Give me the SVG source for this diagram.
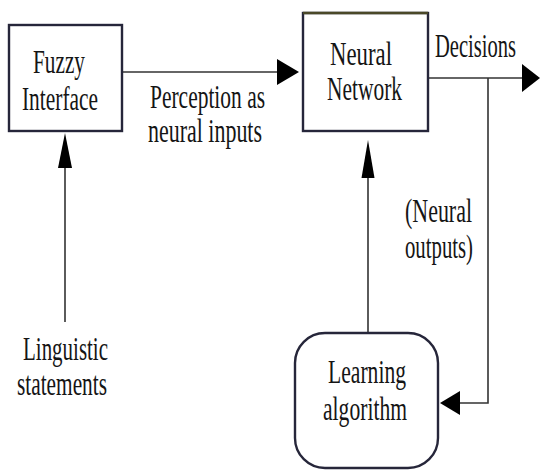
<svg xmlns="http://www.w3.org/2000/svg" width="540" height="470" viewBox="0 0 540 470">
  <style>
    .box { fill: #ffffff; stroke: #26263a; stroke-width: 2.4; }
    .wire { fill: none; stroke: #333333; stroke-width: 1.6; }
    .head { fill: #000000; stroke: none; }
    .lbl { font-family: "Liberation Serif", "Times New Roman", "DejaVu Serif", serif; font-size: 33px; fill: #151515; }
  </style>
  <rect width="540" height="470" fill="#ffffff"/>

  <!-- connectors -->
  <g id="connectors">
    <!-- fuzzy interface to neural network -->
    <line class="wire" x1="122" y1="72" x2="279" y2="72"/>
    <polygon class="head" points="299,72 277,59 277,85"/>
    <!-- decisions out -->
    <line class="wire" x1="428" y1="78" x2="524" y2="78"/>
    <polygon class="head" points="540,78 522,64 522,92"/>
    <!-- feedback of neural outputs to the learning algorithm -->
    <polyline class="wire" points="488,78 488,403 459,403"/>
    <polygon class="head" points="440,403 460,391 460,415"/>
    <!-- learning algorithm to neural network -->
    <line class="wire" x1="368" y1="333" x2="368" y2="176"/>
    <polygon class="head" points="368,140 361.5,178 374.5,178"/>
    <!-- linguistic statements to fuzzy interface -->
    <line class="wire" x1="65" y1="322" x2="65" y2="166"/>
    <polygon class="head" points="65,133 58,168 72,168"/>
  </g>

  <g id="fuzzy-interface">
    <rect class="box" x="9" y="25" width="113" height="106"/>
    <text class="lbl" x="33" y="73" textLength="52" lengthAdjust="spacingAndGlyphs">Fuzzy</text>
    <text class="lbl" x="22" y="110" textLength="76" lengthAdjust="spacingAndGlyphs">Interface</text>
  </g>

  <g id="neural-network">
    <rect class="box" x="303" y="13" width="125" height="118"/>
    <line x1="303" y1="13" x2="428" y2="13" stroke="#4a4828" stroke-width="2.4"/>
    <text class="lbl" x="330" y="65" textLength="62" lengthAdjust="spacingAndGlyphs">Neural</text>
    <text class="lbl" x="327" y="100" textLength="75" lengthAdjust="spacingAndGlyphs">Network</text>
  </g>

  <g id="learning-algorithm">
    <rect class="box" x="295" y="333" width="143" height="135" rx="30" ry="30"/>
    <text class="lbl" x="328" y="383" textLength="78" lengthAdjust="spacingAndGlyphs">Learning</text>
    <text class="lbl" x="323" y="420" textLength="84" lengthAdjust="spacingAndGlyphs">algorithm</text>
  </g>

  <g id="labels">
    <text class="lbl" x="150" y="108" textLength="115" lengthAdjust="spacingAndGlyphs">Perception as</text>
    <text class="lbl" x="148" y="142" textLength="114" lengthAdjust="spacingAndGlyphs">neural inputs</text>
    <text class="lbl" transform="translate(435,57) scale(0.623,1)">Decisions</text>
    <text class="lbl" x="405" y="222" textLength="67" lengthAdjust="spacingAndGlyphs">(Neural</text>
    <text class="lbl" x="405" y="258" textLength="68" lengthAdjust="spacingAndGlyphs">outputs)</text>
    <text class="lbl" x="23" y="360" textLength="85" lengthAdjust="spacingAndGlyphs">Linguistic</text>
    <text class="lbl" x="17" y="395" textLength="90" lengthAdjust="spacingAndGlyphs">statements</text>
  </g>
</svg>
